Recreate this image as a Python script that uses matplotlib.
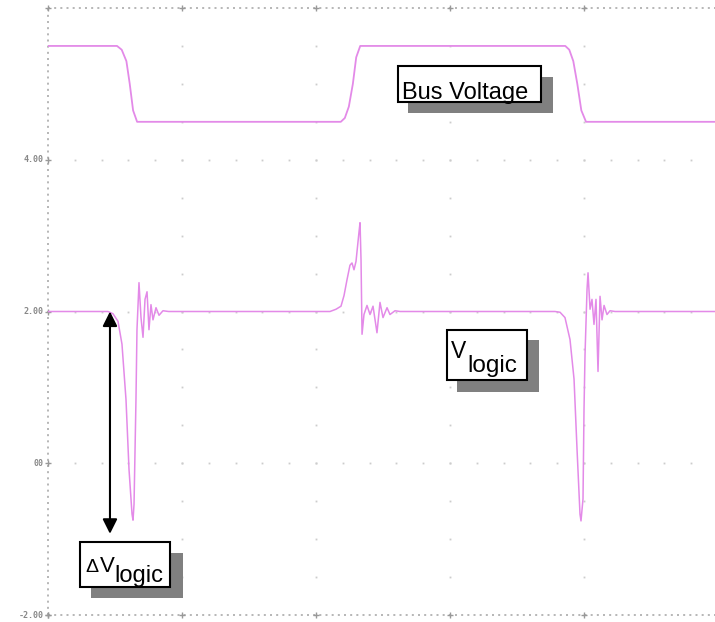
import matplotlib
matplotlib.use("Agg")
import matplotlib.pyplot as plt
from matplotlib.patches import Rectangle
import numpy as np

# ---- data (time in divisions-units, volts) ----
bus_t = [0.0, 1.03, 1.10, 1.17, 1.22, 1.27, 1.33, 4.37, 4.43, 4.49, 4.55, 4.60, 4.66,
         7.72, 7.78, 7.84, 7.90, 7.96, 8.03, 9.96]
bus_v = [5.5, 5.5, 5.45, 5.3, 5.0, 4.65, 4.5, 4.5, 4.55, 4.7, 5.0, 5.35, 5.5,
         5.5, 5.45, 5.3, 5.0, 4.65, 4.5, 4.5]

logic_t = [0.0, 0.896, 0.97, 1.045, 1.104, 1.164, 1.209, 1.254, 1.269, 1.284, 1.313,
           1.328, 1.358, 1.388, 1.418, 1.448, 1.478, 1.507, 1.537, 1.567, 1.612,
           1.657, 1.716, 1.80,
           4.209, 4.299, 4.373, 4.418, 4.463, 4.507, 4.537, 4.567, 4.597, 4.642,
           4.657, 4.672, 4.687, 4.716, 4.761, 4.806, 4.851, 4.910, 4.955, 5.000,
           5.060, 5.104, 5.179, 5.254,
           7.567, 7.642, 7.716, 7.791, 7.851, 7.896, 7.940, 7.955, 7.985, 8.000,
           8.015, 8.045, 8.060, 8.090, 8.119, 8.149, 8.179, 8.209, 8.239, 8.269,
           8.299, 8.343, 8.388, 8.463, 9.96]
logic_v = [2.0, 2.0, 1.97, 1.87, 1.57, 0.84, -0.08, -0.67, -0.75, -0.54, 0.84,
           1.76, 2.38, 1.92, 1.66, 2.16, 2.26, 1.76, 2.09, 1.89, 2.05,
           1.95, 2.01, 2.0,
           2.0, 2.03, 2.07, 2.21, 2.42, 2.61, 2.64, 2.55, 2.66, 3.05,
           3.17, 2.68, 1.70, 1.96, 2.08, 1.96, 2.07, 1.72, 2.12, 1.92,
           2.05, 1.96, 2.01, 2.0,
           2.0, 1.99, 1.92, 1.63, 1.11, 0.18, -0.67, -0.76, -0.47, 0.71,
           1.43, 2.29, 2.51, 2.03, 2.16, 1.83, 2.16, 1.21, 2.20, 1.89,
           2.08, 1.96, 2.01, 2.0, 2.0]

ytick_vals = [4, 2, 0, -2]
ytick_labels = ["4.00", "2.00", "00", "-2.00"]

arrow_t = 0.925
arrow_v = [2.0, -0.93]

W, H = 715, 622
fig = plt.figure(figsize=(W / 100, H / 100), dpi=100)
plt.rcParams['font.family'] = ['Liberation Sans', 'DejaVu Sans']

ax = fig.add_axes([48 / W, 7 / H, (W - 48) / W, (615 - 8) / H])
ax.set_xlim(0, 9.955)
ax.set_ylim(-2, 6)

for s in ax.spines.values():
    s.set_visible(False)
ax.set_xticks([])
ax.set_yticks([])

grid_c = '#cccccc'
# dotted grid: horizontal majors
gx = np.arange(0, 10.0, 0.4)
for yv in [0, 2, 4]:
    ax.plot(gx, np.full_like(gx, yv), ls='none', marker='s', ms=1.3, color=grid_c, mew=0)
gy = np.arange(-2, 6.01, 0.5)
for xv in [2, 4, 6, 8]:
    ax.plot(np.full_like(gy, xv), gy, ls='none', marker='s', ms=1.3, color=grid_c, mew=0)

# borders (dotted)
ax.plot([0, 0], [-2, 6], color='#aaaaaa', lw=1.2, ls=(0, (1.2, 2.5)), clip_on=False)
ax.plot([0, 9.955], [6, 6], color='#aaaaaa', lw=1.2, ls=(0, (1.2, 2.5)), clip_on=False)
ax.plot([0, 9.955], [-2, -2], color='#aaaaaa', lw=1.2, ls=(0, (1.2, 2.5)), clip_on=False)
for xv in [0, 2, 4, 6, 8]:
    ax.plot([xv], [-2], marker='+', ms=5, color='#999999', mew=1, clip_on=False)
    ax.plot([xv], [6], marker='+', ms=5, color='#999999', mew=1, clip_on=False)
for yv in ytick_vals:
    ax.plot([0], [yv], marker='+', ms=5, color='#999999', mew=1, clip_on=False)

for yv, lab in zip(ytick_vals, ytick_labels):
    ax.text(-0.06, yv, lab, ha='right', va='center', fontsize=6, color='#888888',
            fontweight='bold', family='DejaVu Sans Mono')

# waveforms
wave_c = '#e38ae8'
ax.plot(bus_t, bus_v, color=wave_c, lw=1.3, solid_joinstyle='round')
ax.plot(logic_t, logic_v, color=wave_c, lw=1.1, solid_joinstyle='round')

# double arrow
ax.annotate('', xy=(arrow_t, arrow_v[1]), xytext=(arrow_t, arrow_v[0]),
            arrowprops=dict(arrowstyle='<|-|>', color='black', lw=1.5,
                            mutation_scale=22, shrinkA=0, shrinkB=0))


def box(x0, y0, x1, y1, shadow):
    sx0, sy0, sx1, sy1 = shadow
    fig.patches.append(Rectangle((sx0 / W, 1 - sy1 / H), (sx1 - sx0) / W, (sy1 - sy0) / H,
                                 transform=fig.transFigure, facecolor='#808080',
                                 edgecolor='none', zorder=5))
    fig.patches.append(Rectangle((x0 / W, 1 - y1 / H), (x1 - x0) / W, (y1 - y0) / H,
                                 transform=fig.transFigure, facecolor='white',
                                 edgecolor='black', lw=1.5, zorder=6))


def ftext(px, py, s, fs):
    fig.text(px / W, 1 - py / H, s, fontsize=fs, ha='left', va='baseline',
             color='black', zorder=7, family='Liberation Sans')


box(398, 66, 541, 102, (408, 77, 553, 113))
ftext(402, 99, "Bus Voltage", 17)

box(447, 330, 527, 380, (457, 340, 539, 392))
ftext(451, 358, "V", 16.5)
ftext(467, 372, "logic", 17.5)

box(80, 542, 170, 587, (91, 553, 183, 598))
ftext(85, 572, "\u0394", 14)
ftext(100, 572, "V", 16)
ftext(114, 582, "logic", 17)

fig.savefig("out.png", dpi=100)
